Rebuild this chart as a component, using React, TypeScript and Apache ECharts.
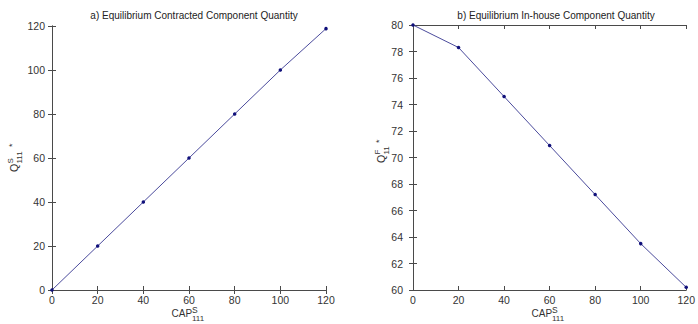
import React, { useEffect, useRef } from "react";
import * as echarts from "echarts";

// Capacity values on the horizontal axis
const capacity = [0, 20, 40, 60, 80, 100, 120];
// a) contracted component quantity at equilibrium
const contractedQty = [0, 20, 40, 60, 80, 100, 118.8];
// b) in-house component quantity at equilibrium
const inhouseQty = [80, 78.3, 74.6, 70.9, 67.2, 63.5, 60.2];

const titleA = "a) Equilibrium Contracted Component Quantity";
const titleB = "b) Equilibrium In-house Component Quantity";

const FONT = "Liberation Sans, Arial, sans-serif";
const AXIS_COLOR = "#4a4a4a";
const TEXT_COLOR = "#333";
const LINE_COLOR = "#4b4b9c";
const DOT_COLOR = "#10107a";

function txt(text: string, x: number, y: number, size: number, extra: any = {}) {
  return {
    type: "text",
    x,
    y,
    silent: true,
    style: {
      text,
      fontSize: size,
      fontFamily: FONT,
      fill: TEXT_COLOR,
      align: "left",
      verticalAlign: "middle",
      ...extra,
    },
  };
}

// "CAP" with superscript S and subscript 111
function capLabel(x0: number, y0: number) {
  return {
    type: "group",
    children: [
      txt("CAP", x0, y0, 10),
      txt("S", x0 + 20.5, y0 - 3.5, 8.5),
      txt("111", x0 + 20.5, y0 + 5, 8),
    ],
  };
}

// Rotated quantity label: Q with superscript, subscript and a trailing star
function qLabel(cx: number, cy: number, sup: string, sub: string) {
  const subW = sub.length * 4.8;
  return {
    type: "group",
    x: cx,
    y: cy,
    rotation: Math.PI / 2,
    children: [
      txt("Q", 0, 0, 10.5),
      txt(sup, 8.5, -3.5, 8),
      txt(sub, 8.5, 5, 8),
      txt("*", 10.5 + subW, -2, 9),
    ],
  };
}

function axesFor(gridIndex: number, yMin: number, yMax: number, yStep: number, labelMargin: number) {
  const common = {
    gridIndex,
    type: "value",
    axisLine: { show: true, lineStyle: { color: AXIS_COLOR, width: 1 } },
    axisTick: { show: true, inside: true, length: 4, lineStyle: { color: AXIS_COLOR } },
    splitLine: { show: false },
  };
  const xAxes = [
    {
      ...common,
      position: "bottom",
      min: 0,
      max: 120,
      interval: 20,
      axisLabel: { show: true, fontSize: 10.5, fontFamily: FONT, color: TEXT_COLOR, margin: 4 },
    },
    {
      ...common,
      position: "top",
      min: 0,
      max: 120,
      interval: 20,
      axisLabel: { show: false },
    },
  ];
  const yAxes = [
    {
      ...common,
      position: "left",
      min: yMin,
      max: yMax,
      interval: yStep,
      axisLabel: { show: true, fontSize: 10.5, fontFamily: FONT, color: TEXT_COLOR, margin: labelMargin },
    },
    {
      ...common,
      position: "right",
      min: yMin,
      max: yMax,
      interval: yStep,
      axisLabel: { show: false },
    },
  ];
  return { xAxes, yAxes };
}

export default function App() {
  const ref = useRef<HTMLDivElement>(null);

  useEffect(() => {
    if (!ref.current) return;
    const chart = echarts.init(ref.current, null, { renderer: "svg" });

    const a = axesFor(0, 0, 120, 20, 7);
    const b = axesFor(1, 60, 80, 2, 10);

    const seriesStyle = {
      type: "line",
      symbol: "circle",
      symbolSize: 3.5,
      lineStyle: { color: LINE_COLOR, width: 1 },
      itemStyle: { color: DOT_COLOR },
      silent: true,
    };

    chart.setOption({
      animation: false,
      backgroundColor: "#ffffff",
      title: [
        {
          text: titleA,
          left: 189,
          top: 5,
          textAlign: "center",
          textStyle: { fontSize: 10, fontWeight: "normal", fontFamily: FONT, color: "#222" },
        },
        {
          text: titleB,
          left: 551,
          top: 5,
          textAlign: "center",
          textStyle: { fontSize: 10, fontWeight: "normal", fontFamily: FONT, color: "#222" },
        },
      ],
      grid: [
        { left: 52, right: 372, top: 26, bottom: 34 },
        { left: 413, right: 9, top: 25, bottom: 34 },
      ],
      xAxis: [...a.xAxes, ...b.xAxes],
      yAxis: [...a.yAxes, ...b.yAxes],
      series: [
        {
          ...seriesStyle,
          xAxisIndex: 0,
          yAxisIndex: 0,
          data: capacity.map((c, i) => [c, contractedQty[i]]),
        },
        {
          ...seriesStyle,
          xAxisIndex: 2,
          yAxisIndex: 2,
          data: capacity.map((c, i) => [c, inhouseQty[i]]),
        },
      ],
      graphic: [
        capLabel(171.5, 313.5),
        capLabel(531.5, 313.5),
        qLabel(14, 172, "S", "111"),
        qLabel(381, 163, "F", "11"),
      ],
    });

    return () => chart.dispose();
  }, []);

  return <div ref={ref} style={{ width: 698, height: 324, position: "absolute", left: 0, top: 0 }} />;
}
